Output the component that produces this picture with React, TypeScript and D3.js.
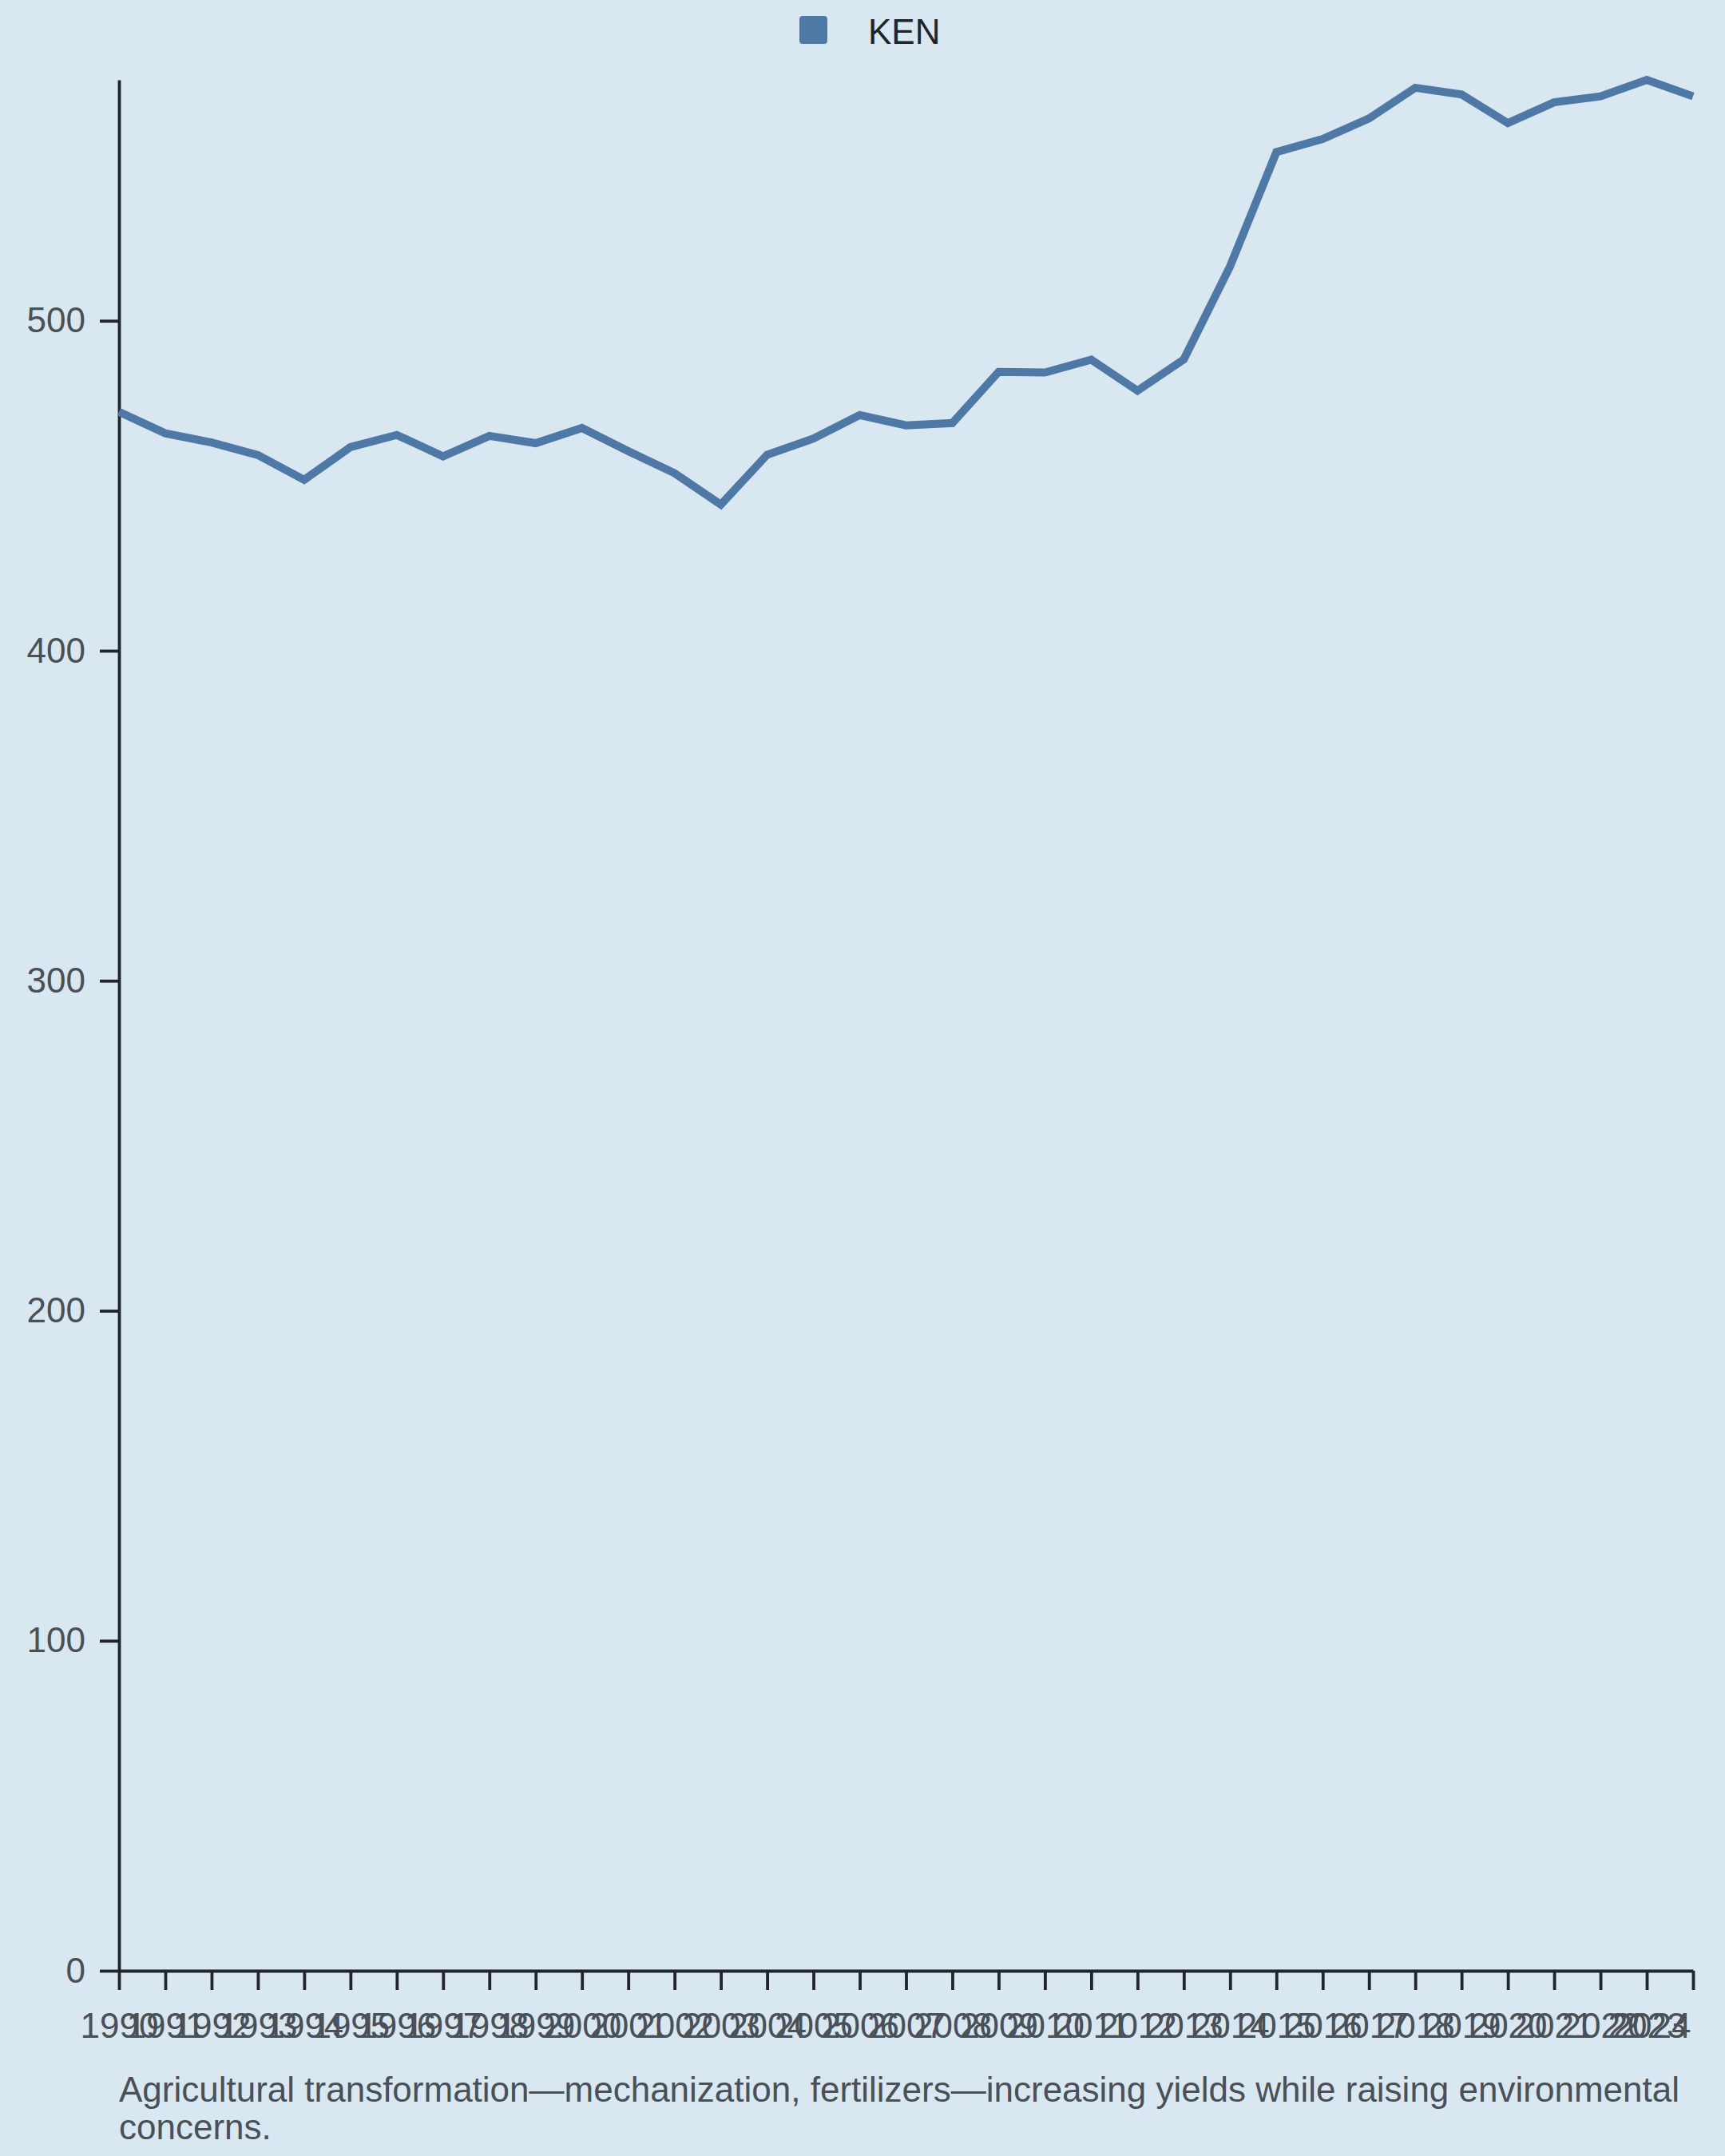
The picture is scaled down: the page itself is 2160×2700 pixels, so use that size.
import { useRef, useEffect } from "react";
import * as d3 from "d3";

const years = [
  1990, 1991, 1992, 1993, 1994, 1995, 1996, 1997, 1998, 1999, 2000, 2001,
  2002, 2003, 2004, 2005, 2006, 2007, 2008, 2009, 2010, 2011, 2012, 2013,
  2014, 2015, 2016, 2017, 2018, 2019, 2020, 2021, 2022, 2023, 2024,
];
const kenValues = [
  472.4, 465.9, 463.1, 459.3, 451.8, 461.7, 465.4, 458.9, 465.1, 462.9, 467.5,
  460.5, 453.8, 444.3, 459.4, 464.3, 471.4, 468.3, 469.0, 484.5, 484.3, 488.2,
  478.8, 488.3, 516.5, 551.1, 555.1, 561.3, 570.6, 568.6, 559.9, 566.2, 568.0,
  573.0, 568.0,
];
const yTicks = [0, 100, 200, 300, 400, 500];
const seriesName = "KEN";
const captionLines = [
  "Agricultural transformation—mechanization, fertilizers—increasing yields while raising environmental",
  "concerns.",
];

const W = 2160;
const H = 2700;
const BG = "#d9e7f0";
const LINE = "#4e79a7";
const AXIS = "#212529";
const LABEL = "#495057";
const FONT = "'Liberation Sans', Arial, Helvetica, sans-serif";
const FS = 44;

export default function App() {
  const svgRef = useRef<SVGSVGElement>(null);

  useEffect(() => {
    if (!svgRef.current) return;
    document.body.style.margin = "0";
    const svg = d3.select(svgRef.current);
    svg.selectAll("*").remove();

    const margin = { top: 100, right: 40, bottom: 232, left: 149 };
    const width = W - margin.left - margin.right;
    const height = H - margin.top - margin.bottom;

    svg.append("rect").attr("width", W).attr("height", H).attr("fill", BG);

    const g = svg.append("g").attr("transform", `translate(${margin.left},${margin.top})`);

    const x = d3.scalePoint<number>().domain(years).range([0, width]);
    const y = d3.scaleLinear().domain([0, d3.max(kenValues)!]).range([height, 0]);

    // Axes
    g.append("g")
      .attr("transform", `translate(0,${height})`)
      .call(d3.axisBottom(x).tickSize(24).tickSizeOuter(0).tickPadding(29).tickFormat(d => String(d)))
      .call(a => {
        a.select(".domain").attr("stroke", AXIS).attr("stroke-width", 3.8);
        a.selectAll("line").attr("stroke", AXIS).attr("stroke-width", 3.8);
        a.selectAll("text").attr("fill", LABEL).attr("font-size", FS).attr("font-family", FONT);
        // last label kept inside the frame
        a.selectAll<SVGTextElement, number>("text")
          .filter(d => d === years[years.length - 1])
          .attr("text-anchor", "end")
          .attr("x", -3);
      });

    g.append("g")
      .call(d3.axisLeft(y).tickValues(yTicks).tickSize(24).tickSizeOuter(0).tickPadding(18))
      .call(a => {
        a.select(".domain").attr("stroke", AXIS).attr("stroke-width", 3.8);
        a.selectAll("line").attr("stroke", AXIS).attr("stroke-width", 3.8);
        a.selectAll("text").attr("fill", LABEL).attr("font-size", FS).attr("font-family", FONT);
      });

    // Line
    const line = d3.line<number>()
      .x((_, i) => x(years[i])!)
      .y(d => y(d));

    g.append("path")
      .datum(kenValues)
      .attr("fill", "none")
      .attr("stroke", LINE)
      .attr("stroke-width", 10)
      .attr("d", line);

    // Legend
    const legend = svg.append("g").attr("transform", `translate(1001,20)`);
    legend.append("rect").attr("width", 35).attr("height", 35).attr("rx", 4).attr("fill", LINE);
    legend.append("text")
      .attr("x", 86).attr("y", 35)
      .attr("fill", AXIS).attr("font-size", FS).attr("font-family", FONT)
      .text(seriesName);

    // Caption
    captionLines.forEach((t, i) => {
      svg.append("text")
        .attr("x", margin.left)
        .attr("y", 2632 + i * 47)
        .attr("fill", LABEL).attr("font-size", FS).attr("font-family", FONT)
        .text(t);
    });
  }, []);

  return (
    <div style={{ position: "absolute", left: 0, top: 0 }}>
      <svg ref={svgRef} width={W} height={H} style={{ display: "block" }} />
    </div>
  );
}
